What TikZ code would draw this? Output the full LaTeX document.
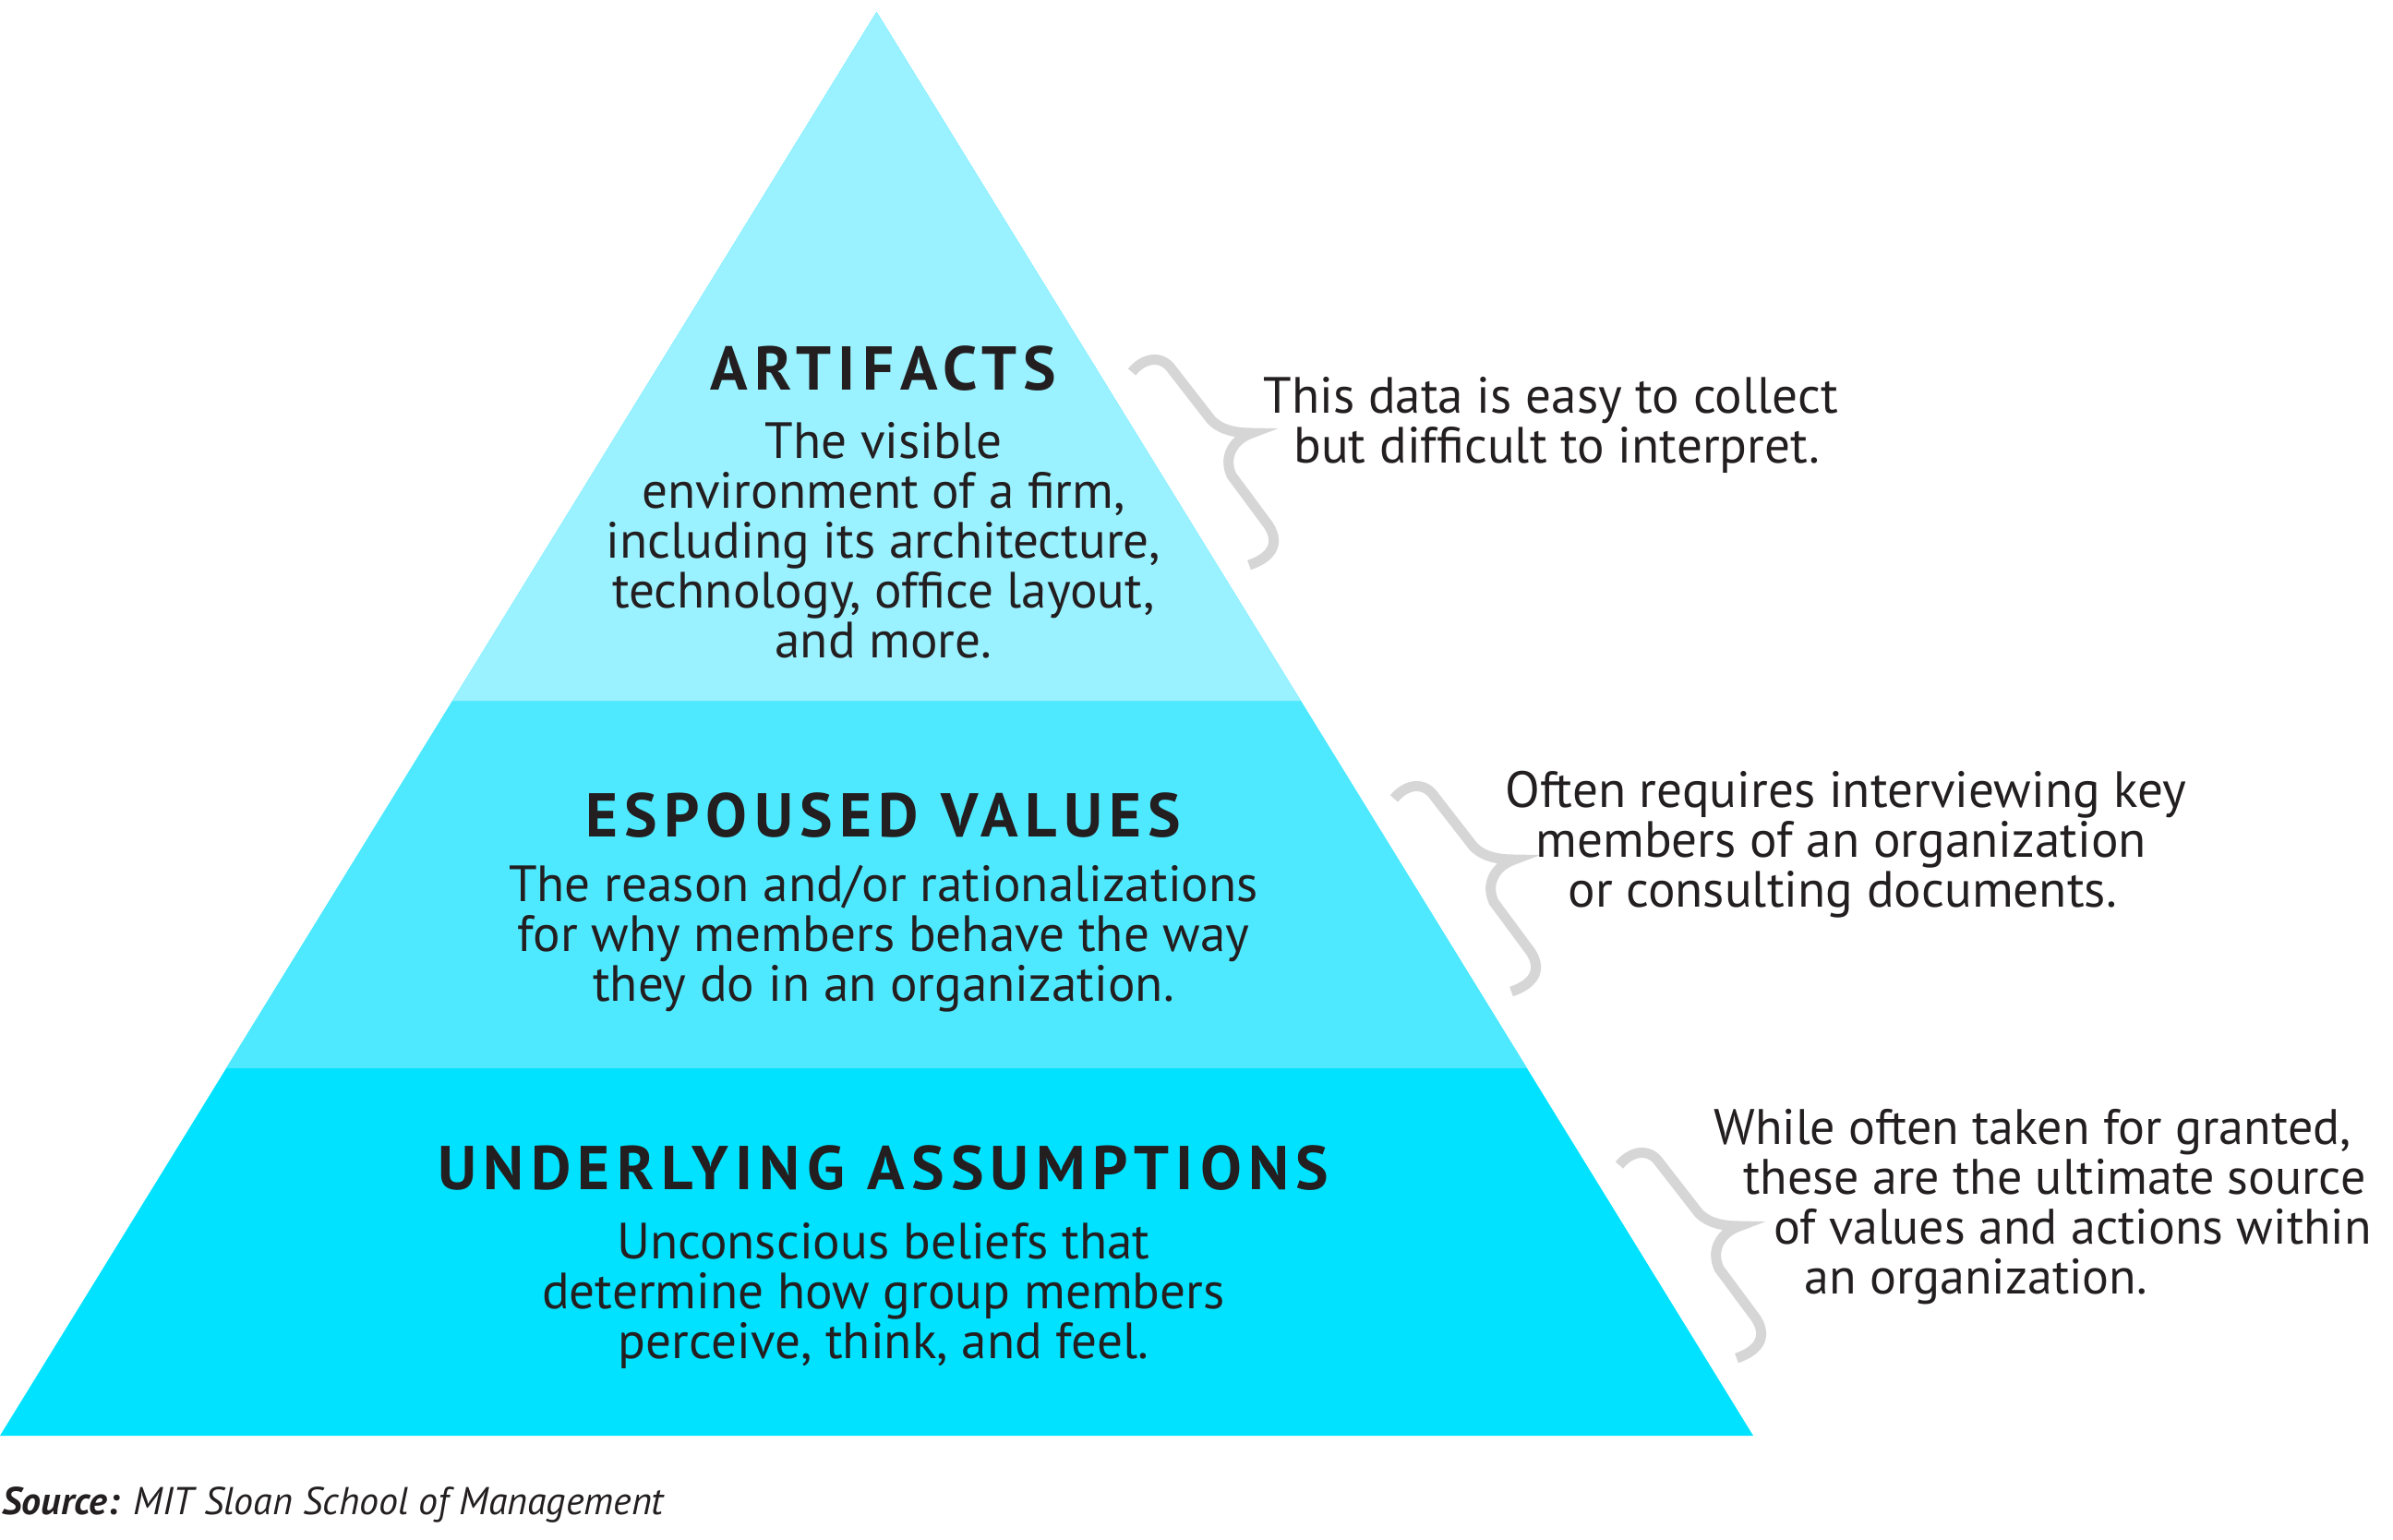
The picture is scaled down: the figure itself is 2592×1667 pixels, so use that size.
\documentclass[tikz,border=0pt]{standalone}
\usepackage{fontspec}
\setmainfont{PT Sans}
\newfontfamily\titulofont{PT Sans}[LetterSpace=11.0]
\definecolor{corArt}{RGB}{154,241,255}
\definecolor{corVal}{RGB}{79,233,255}
\definecolor{corPre}{RGB}{0,226,255}
\definecolor{corChave}{RGB}{214,214,214}
\definecolor{corTexto}{RGB}{35,31,32}

\begin{document}
\begin{tikzpicture}[x=0.5pt, y=-0.5pt,
    titulo/.style={font=\titulofont\bfseries\fontsize{33.5}{36}\selectfont, text=corTexto, inner sep=0},
    corpo/.style={font=\fontsize{27.6}{27}\selectfont, text=corTexto, align=center, inner sep=0},
    nota/.style={font=\fontsize{27.6}{27}\selectfont, text=corTexto, align=left, anchor=west, inner sep=0},
    chave/.style={corChave, line width=5.5pt, line cap=butt}]
        \useasboundingbox (0,0) rectangle (2592,1667);

        % Camadas da piramide
        \fill[corPre] (949.5,13) -- (0,1555) -- (1899,1555) -- cycle;
        \fill[corVal] (949.5,13) -- (245,1157) -- (1654,1157) -- cycle;
        \fill[corArt] (949.5,13) -- (490,759) -- (1409,759) -- cycle;

        % Textos das camadas
        \node[titulo] (tArt) at (957,399) {ARTIFACTS};
        \node[corpo] (dArt) at (957,585) {The visible\\environment of a firm,\\including its architecture,\\technology, office layout,\\and more.};

        \node[titulo] (tVal) at (957,883) {ESPOUSED VALUES};
        \node[corpo] (dVal) at (957,1017) {The reason and/or rationalizations\\for why members behave the way\\they do in an organization.};

        \node[titulo] (tPre) at (957,1265) {UNDERLYING ASSUMPTIONS};
        \node[corpo] (dPre) at (957,1403) {Unconscious beliefs that\\determine how group members\\perceive, think, and feel.};

        % Chaves
        \foreach \bx/\by in {1226/403, 1510/865, 1754/1262} {
            \draw[chave, shift={(\bx,\by)}] (0,0) .. controls (12,-15) and (32,-20) .. (44,-2)
                -- (86,52) .. controls (98,64) and (115,66) .. (130,66)
                .. controls (112,72) and (98,90) .. (108,112)
                -- (148,166) .. controls (162,188) and (148,202) .. (127,209);
        }

        % Notas a direita
        \node[nota] (nArt) at (1368,460) {This data is easy to collect\\\hspace*{16.5pt}but difficult to interpret.};
        \node[nota] (nVal) at (1630,915) {Often requires interviewing key\\\hspace*{16.5pt}members of an organization\\\hspace*{34pt}or consulting documents.};
        \node[nota, font=\fontsize{27}{27}\selectfont] (nPre) at (1856,1307) {While often taken for granted,\\\hspace*{16pt}these are the ultimate source\\\hspace*{32.5pt}of values and actions within\\\hspace*{49pt}an organization.};

        % Fonte
        \node[font=\itshape\fontsize{21}{22}\selectfont, text=corTexto, anchor=base west, inner sep=0] (fonte) at (2,1640) {\textbf{Source:} MIT Sloan School of Management};
\end{tikzpicture}
\end{document}
